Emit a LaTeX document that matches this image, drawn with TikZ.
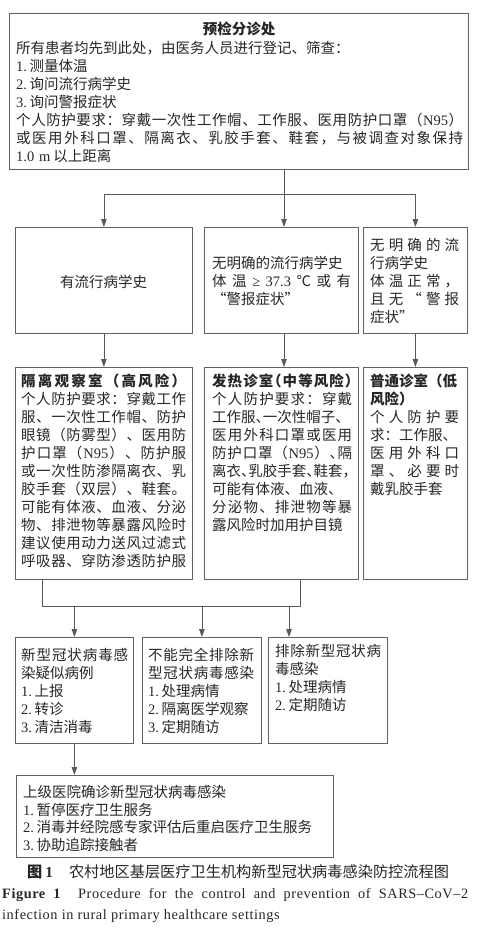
\documentclass[tikz,border=0pt]{standalone}
\usepackage{fontspec}
\setmainfont{Noto Sans CJK SC}
\newfontfamily\lat{Liberation Serif}
\newfontfamily\capfont[LetterSpace=4]{Liberation Serif}
\usetikzlibrary{arrows.meta}
\makeatletter
\def\jl@stop{jlstop}
\newcommand\jl[1]{\leavevmode\hbox to\linewidth{\jl@a#1\jl@stop\jl@end}}
\def\jl@a#1#2\jl@end{\ifx\jl@stop#1\else{#1}\ifx\jl@stop#2\else\hfil\fi\jl@a#2\jl@end\fi}
\makeatother
\newcommand\hw[1]{\makebox[0.5em][l]{#1}}
\newcommand\nm[1]{{\lat #1.}\hspace{2.5pt}}
\tikzset{
  box/.style={draw=black!62, line width=0.8pt, inner sep=0pt, anchor=north west},
  txt/.style={inner sep=0pt, anchor=base west, align=left, text=black!85,
              font=\fontsize{14.5}{18}\selectfont},
  ln/.style={draw=black!65, line width=0.8pt},
  arr/.style={draw=black!65, line width=0.8pt, -{Triangle[length=8pt,width=5.5pt]}},
}
\begin{document}
\begin{tikzpicture}[x=1pt,y=-1pt]
\useasboundingbox (0,0) rectangle (485,931);
% boxes
\node[box,minimum width=459pt,minimum height=156pt] (top) at (9,13) {};
\node[box,minimum width=177pt,minimum height=106pt] (r2a) at (15,227) {};
\node[box,minimum width=154pt,minimum height=106pt] (r2b) at (204,227) {};
\node[box,minimum width=104pt,minimum height=106pt] (r2c) at (363,227) {};
\node[box,minimum width=177pt,minimum height=212pt] (r3a) at (15,367) {};
\node[box,minimum width=154pt,minimum height=212pt] (r3b) at (204,367) {};
\node[box,minimum width=104pt,minimum height=212pt] (r3c) at (363,367) {};
\node[box,minimum width=118pt,minimum height=106pt] (r4a) at (15,637) {};
\node[box,minimum width=119pt,minimum height=106pt] (r4b) at (142,637) {};
\node[box,minimum width=119pt,minimum height=106pt] (r4c) at (268,637) {};
\node[box,minimum width=317pt,minimum height=82pt] (r5) at (16,775) {};
% connectors
\coordinate (j1) at (284,194);
\coordinate (j2) at (42,606);
\coordinate (j3) at (300,606);
\coordinate (j4) at (289,606);
\draw[ln] (top.south -| j1) -- (j1);
\draw[ln] (r2a.north |- j1) -- (r2c.north |- j1);
\draw[arr] (r2a.north |- j1) -- (r2a.north);
\draw[arr] (j1) -- (j1 |- r2b.north);
\draw[arr] (r2c.north |- j1) -- (r2c.north);
\draw[arr] (r2a.south) -- (r3a.north);
\draw[arr] (r2b.south -| j1) -- (r3b.north -| j1);
\draw[arr] (r2c.south) -- (r3c.north);
\draw[ln] (r3a.south -| j2) -- (j2) -- (j3) -- (r3b.south -| j3);
\draw[arr] (r4a.north |- j2) -- (r4a.north);
\draw[arr] (r4b.north |- j2) -- (r4b.north);
\draw[arr] (j4) -- (j4 |- r4c.north);
\draw[arr] (r4a.south) -- (r4a.south |- r5.north);
% texts
\node[txt,anchor=base,font=\fontsize{14.5}{18}\selectfont\bfseries] (t0h) at (239,34.5) {预检分诊处};
\node[txt,text width=447pt] (t0) at (16,53.5) {所有患者均先到此处，由医务人员进行登记、筛查：\\
\nm{1}测量体温\\
\nm{2}询问流行病学史\\
\nm{3}询问警报症状\\
\jl{个人防护要求：穿戴一次性工作帽、工作服、医用防护口罩（{\lat N95}）}\\
\jl{或医用外科口罩、隔离衣、乳胶手套、鞋套，与被调查对象保持}\\
{\lat 1.0 m}\hspace{3pt}以上距离};
\node[txt,anchor=base] (t2a) at (103.5,287.5) {有流行病学史};
\node[txt,text width=139pt] (t2b) at (212,268.5) {无明确的流行病学史\\
\jl{体温{\lat ≥}{\lat 37.3}℃或有}\\
“警报症状”};
\node[txt,text width=89pt] (t2c) at (370,250.5) {\jl{无明确的流}\\
行病学史\\
\jl{体温正常，}\\
\jl{且无“警报}\\
症状”};
\node[txt,text width=165pt] (t3a) at (21,386.5) {{\bfseries\jl{隔离观察室（高风险）}}\\
\jl{个人防护要求：穿戴工作}\\
\jl{服、一次性工作帽、防护}\\
\jl{眼镜（防雾型）、医用防}\\
\jl{护口罩（{\lat N95}）、防护服}\\
\jl{或一次性防渗隔离衣、乳}\\
\jl{胶手套（双层）、鞋套。}\\
\jl{可能有体液、血液、分泌}\\
\jl{物、排泄物等暴露风险时}\\
\jl{建议使用动力送风过滤式}\\
\jl{呼吸器、穿防渗透防护服}};
\node[txt,text width=140pt] (t3b) at (212,386.5) {{\bfseries\jl{发热诊室{\makebox[0.5em][r]{（}}中等风险{\hw{）}}}}\\
\jl{个人防护要求：穿戴}\\
工作服\hw{、}一次性帽子\hw{、}\\
\jl{医用外科口罩或医用}\\
\jl{防护口罩（{\lat N95}）{\hw{、}}隔}\\
离衣\hw{、}乳胶手套\hw{、}鞋套\hw{，}\\
可能有体液、血液、\\
\jl{分泌物、排泄物等暴}\\
露风险时加用护目镜};
\node[txt,text width=89pt] (t3c) at (370,386.5) {{\bfseries 普通诊室（低}\\
{\bfseries 风险）}\\
\jl{个人防护要}\\
求：工作服、\\
\jl{医用外科口}\\
\jl{罩、必要时}\\
戴乳胶手套};
\node[txt,text width=107pt] (t4a) at (21,660.5) {\jl{新型冠状病毒感}\\
染疑似病例\\
\nm{1}上报\\
\nm{2}转诊\\
\nm{3}清洁消毒};
\node[txt,text width=106pt] (t4b) at (148,660.5) {\jl{不能完全排除新}\\
\jl{型冠状病毒感染}\\
\nm{1}处理病情\\
\nm{2}隔离医学观察\\
\nm{3}定期随访};
\node[txt,text width=106pt] (t4c) at (275,656.5) {\jl{排除新型冠状病}\\
毒感染\\
\nm{1}处理病情\\
\nm{2}定期随访};
\node[txt,text width=310pt,font=\fontsize{14.5}{17.7}\selectfont] (t5) at (23,797.5) {上级医院确诊新型冠状病毒感染\\
\nm{1}暂停医疗卫生服务\\
\nm{2}消毒并经院感专家评估后重启医疗卫生服务\\
\nm{3}协助追踪接触者};
% caption
\node[txt,font=\fontsize{15.2}{18}\selectfont] (cap1) at (27,877.5) {{\bfseries 图\hspace{3pt}{\lat 1}}\hspace{16pt}农村地区基层医疗卫生机构新型冠状病毒感染防控流程图};
\node[txt,font=\fontsize{14.3}{18}\selectfont\capfont] (cap2) at (2,898) {\hbox to 466pt{\textbf{Figure 1}\hspace{17pt}Procedure for the control and prevention of SARS–CoV–2}};
\node[txt,font=\fontsize{14.3}{18}\selectfont\capfont] (cap3) at (2,919) {infection in rural primary healthcare settings};
\end{tikzpicture}
\end{document}
